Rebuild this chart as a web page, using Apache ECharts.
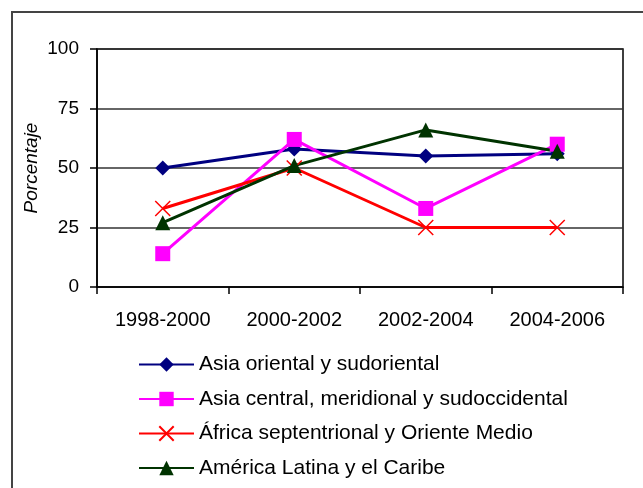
<!DOCTYPE html>
<html>
<head>
<meta charset="utf-8">
<script src="https://cdn.jsdelivr.net/npm/echarts@6/dist/echarts.min.js"></script>
<style>
html,body{margin:0;padding:0;background:#fff;}
#chart{width:643px;height:488px;}
</style>
</head>
<body>
<div id="chart"></div>
<script>
var categories = ['1998-2000', '2000-2002', '2002-2004', '2004-2006'];
var yTicks = [0, 25, 50, 75, 100];
var seriesNames = [
  'Asia oriental y sudoriental',
  'Asia central, meridional y sudoccidental',
  'África septentrional y Oriente Medio',
  'América Latina y el Caribe'
];
var asiaOriental = [50, 58, 55, 56];
var asiaCentral = [14, 62, 33, 60];
var africaNorte = [33, 50, 25, 25];
var americaLatina = [27, 51, 66, 57];

var FONT = 'Liberation Sans, Arial, sans-serif';
var chart = echarts.init(document.getElementById('chart'), null, {renderer: 'canvas'});

var option = {
  animation: false,
  backgroundColor: '#fff',
  graphic: [{
    type: 'rect',
    shape: {x: 12, y: 12, width: 700, height: 600},
    style: {fill: 'none', stroke: '#444', lineWidth: 2},
    silent: true,
    z: -1
  }],
  grid: {
    left: 97, top: 49, right: 20, bottom: 201,
    show: true, borderColor: '#000', borderWidth: 1.5, backgroundColor: 'transparent'
  },
  legend: {
    orient: 'vertical',
    left: 138,
    top: 354,
    padding: 0,
    itemWidth: 55,
    itemHeight: 18,
    itemGap: 13.5,
    textStyle: {fontFamily: FONT, fontSize: 21, color: '#000'},
    data: seriesNames
  },
  xAxis: {
    type: 'category',
    data: categories,
    boundaryGap: true,
    axisLine: {lineStyle: {color: '#000', width: 1.5}},
    axisTick: {show: true, length: 7, inside: false, lineStyle: {color: '#000', width: 1.5}},
    axisLabel: {fontFamily: FONT, fontSize: 20, color: '#000', margin: 23},
    splitLine: {show: false}
  },
  yAxis: {
    type: 'value',
    min: yTicks[0],
    max: yTicks[yTicks.length - 1],
    interval: yTicks[1] - yTicks[0],
    name: 'Porcentaje',
    nameLocation: 'middle',
    nameRotate: 90,
    nameGap: 56,
    nameMoveOverlap: false,
    nameTextStyle: {fontFamily: FONT, fontSize: 19, fontStyle: 'italic', color: '#000'},
    axisLine: {show: true, lineStyle: {color: '#000', width: 1.5}},
    axisTick: {show: true, length: 7, lineStyle: {color: '#000', width: 1.5}},
    axisLabel: {fontFamily: FONT, fontSize: 19, color: '#000', margin: 18},
    splitLine: {show: true, lineStyle: {color: '#333', width: 1.5}}
  },
  series: [
    {
      name: seriesNames[0], type: 'line', data: asiaOriental,
      symbol: 'diamond', symbolSize: 15,
      lineStyle: {color: '#000080', width: 3},
      itemStyle: {color: '#000080'}
    },
    {
      name: seriesNames[1], type: 'line', data: asiaCentral,
      symbol: 'rect', symbolSize: 15,
      lineStyle: {color: '#FF00FF', width: 3},
      itemStyle: {color: '#FF00FF'}
    },
    {
      name: seriesNames[2], type: 'line', data: africaNorte,
      symbol: 'path://M0,0L10,10M10,0L0,10', symbolSize: 15,
      lineStyle: {color: '#FF0000', width: 3},
      itemStyle: {color: '#FF0000', borderColor: '#FF0000', borderWidth: 1.5}
    },
    {
      name: seriesNames[3], type: 'line', data: americaLatina,
      symbol: 'triangle', symbolSize: 15,
      lineStyle: {color: '#003300', width: 3},
      itemStyle: {color: '#003300'}
    }
  ]
};
chart.setOption(option);
</script>
</body>
</html>
